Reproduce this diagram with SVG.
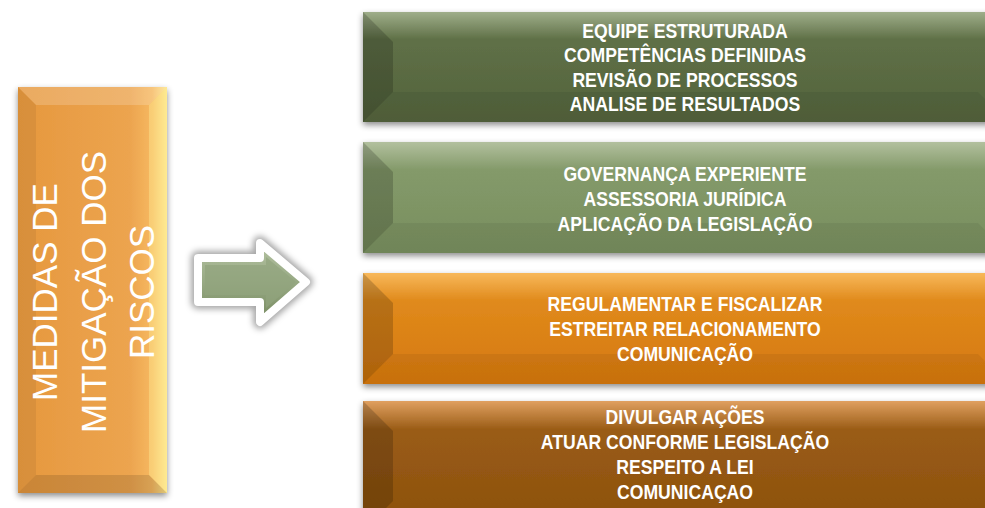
<svg xmlns="http://www.w3.org/2000/svg" width="985" height="508" viewBox="0 0 985 508">
<defs>
<style>
.t{font-family:"Liberation Sans",Arial,sans-serif;font-weight:bold;font-size:21px;fill:#fff;text-anchor:middle}
.v{font-family:"Liberation Sans",Arial,sans-serif;font-size:35px;fill:#fff;text-anchor:middle}
.dk{fill:#000;opacity:.18}
</style>
<filter id="sh" x="-5%" y="-10%" width="110%" height="130%">
<feDropShadow dx="0" dy="3" stdDeviation="3" flood-color="#000" flood-opacity="0.45"/>
</filter>
<filter id="glow" x="-20%" y="-20%" width="140%" height="140%">
<feGaussianBlur stdDeviation="3"/>
</filter>
<linearGradient id="gL" x1="0" y1="0" x2="1" y2="0">
<stop offset="0" stop-color="#e6983e"/>
<stop offset="0.75" stop-color="#eca44f"/>
<stop offset="0.9" stop-color="#f6b860"/>
<stop offset="1" stop-color="#fde48a"/>
</linearGradient>
<linearGradient id="g1" x1="0" y1="0" x2="0" y2="1">
<stop offset="0" stop-color="#9fae8a"/>
<stop offset="0.25" stop-color="#5f7047"/>
<stop offset="1" stop-color="#53633c"/>
</linearGradient>
<linearGradient id="g2" x1="0" y1="0" x2="0" y2="1">
<stop offset="0" stop-color="#b2c09e"/>
<stop offset="0.25" stop-color="#849a6a"/>
<stop offset="1" stop-color="#788e5e"/>
</linearGradient>
<linearGradient id="g3" x1="0" y1="0" x2="0" y2="1">
<stop offset="0" stop-color="#f8b85a"/>
<stop offset="0.25" stop-color="#e08a1c"/>
<stop offset="1" stop-color="#d5780e"/>
</linearGradient>
<linearGradient id="g4" x1="0" y1="0" x2="0" y2="1">
<stop offset="0" stop-color="#e0a060"/>
<stop offset="0.22" stop-color="#9a5c16"/>
<stop offset="1" stop-color="#8b500c"/>
</linearGradient>
<linearGradient id="gA" x1="0" y1="0" x2="0" y2="1">
<stop offset="0" stop-color="#b4c2a2"/>
<stop offset="0.5" stop-color="#97a983"/>
<stop offset="1" stop-color="#76895f"/>
</linearGradient>
</defs>

<g id="left-box">
<rect x="18" y="87" width="149" height="406" fill="url(#gL)" filter="url(#sh)"/>
<polygon points="18,87 167,87 149,105 36,105" fill="#fff" opacity="0.18"/>
<polygon points="18,87 36,105 36,475 18,493" fill="#000" opacity="0.06"/>
<polygon points="18,493 36,475 149,475 167,493" fill="#000" opacity="0.12"/>
<polygon points="167,87 149,105 149,475 167,493" fill="#fff6a0" opacity="0.35"/>
<text class="v" transform="translate(57,292) rotate(-90)">MEDIDAS DE</text>
<text class="v" transform="translate(106,292) rotate(-90)">MITIGAÇÃO DOS</text>
<text class="v" transform="translate(154,292) rotate(-90)">RISCOS</text>
</g>

<g id="arrow">
<path d="M198,258 H260 V243 L306,282 L260,322 V302 H198 Z" fill="none" stroke="#000" stroke-opacity="0.35" stroke-width="14" stroke-linejoin="round" filter="url(#glow)"/>
<path d="M198,258 H260 V243 L306,282 L260,322 V302 H198 Z" fill="url(#gA)" stroke="#fff" stroke-width="8" stroke-linejoin="round"/>
<path d="M205,265 H266 V257 L296,282 L266,308 V295 H205 Z" fill="#92a47e" opacity="0.7"/>
</g>

<g id="box1">
<rect x="363" y="12" width="645" height="110" fill="url(#g1)" filter="url(#sh)"/>
<polygon points="363,12 393,42 393,92 363,122" class="dk"/>
<polygon points="363,122 393,92 978,92 1008,122" fill="#000" opacity="0.06"/>
<g transform="translate(685 0) scale(0.84 1)">
<text class="t" x="0" y="38">EQUIPE ESTRUTURADA</text>
<text class="t" x="0" y="62.5">COMPETÊNCIAS DEFINIDAS</text>
<text class="t" x="0" y="87">REVISÃO DE PROCESSOS</text>
<text class="t" x="0" y="111.5">ANALISE DE RESULTADOS</text>
</g>
</g>

<g id="box2">
<rect x="363" y="142" width="645" height="111" fill="url(#g2)" filter="url(#sh)"/>
<polygon points="363,142 393,172 393,223 363,253" class="dk"/>
<polygon points="363,253 393,223 978,223 1008,253" fill="#000" opacity="0.06"/>
<g transform="translate(685 0) scale(0.84 1)">
<text class="t" x="0" y="181">GOVERNANÇA EXPERIENTE</text>
<text class="t" x="0" y="206">ASSESSORIA JURÍDICA</text>
<text class="t" x="0" y="231">APLICAÇÃO DA LEGISLAÇÃO</text>
</g>
</g>

<g id="box3">
<rect x="363" y="273" width="645" height="111" fill="url(#g3)" filter="url(#sh)"/>
<polygon points="363,273 393,303 393,354 363,384" class="dk"/>
<polygon points="363,384 393,354 978,354 1008,384" fill="#000" opacity="0.06"/>
<g transform="translate(685 0) scale(0.84 1)">
<text class="t" x="0" y="311">REGULAMENTAR E FISCALIZAR</text>
<text class="t" x="0" y="336">ESTREITAR RELACIONAMENTO</text>
<text class="t" x="0" y="361">COMUNICAÇÃO</text>
</g>
</g>

<g id="box4">
<rect x="363" y="401" width="645" height="130" fill="url(#g4)" filter="url(#sh)"/>
<polygon points="363,401 393,431 393,501 363,531" class="dk"/>
<g transform="translate(685 0) scale(0.84 1)">
<text class="t" x="0" y="424">DIVULGAR AÇÕES</text>
<text class="t" x="0" y="449">ATUAR CONFORME LEGISLAÇÃO</text>
<text class="t" x="0" y="474">RESPEITO A LEI</text>
<text class="t" x="0" y="499">COMUNICAÇAO</text>
</g>
</g>
</svg>
